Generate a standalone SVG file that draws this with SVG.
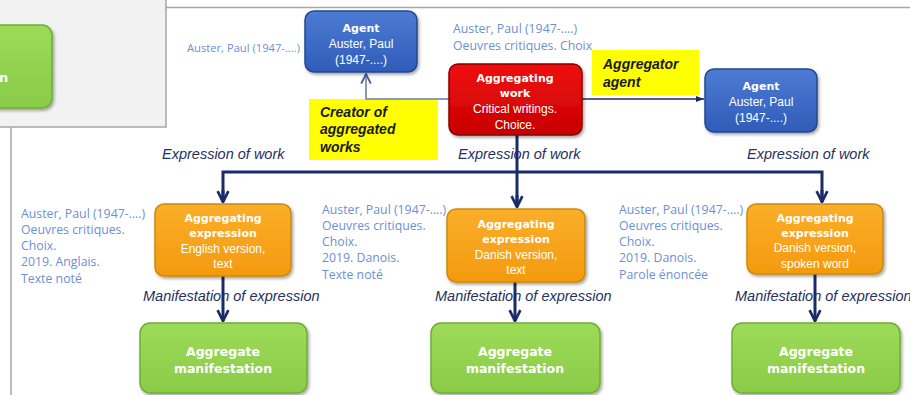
<svg xmlns="http://www.w3.org/2000/svg" width="910" height="395" viewBox="0 0 910 395">
<defs>
<linearGradient id="gBlue" x1="0" y1="0" x2="0" y2="1"><stop offset="0" stop-color="#4d7bd3"/><stop offset="1" stop-color="#2f5cb8"/></linearGradient>
<linearGradient id="gRed" x1="0" y1="0" x2="0" y2="1"><stop offset="0" stop-color="#f01010"/><stop offset="1" stop-color="#c80000"/></linearGradient>
<linearGradient id="gOrange" x1="0" y1="0" x2="0" y2="1"><stop offset="0" stop-color="#fbae2a"/><stop offset="1" stop-color="#f49a0e"/></linearGradient>
<linearGradient id="gGreen" x1="0" y1="0" x2="0" y2="1"><stop offset="0" stop-color="#9ddb58"/><stop offset="1" stop-color="#8acb48"/></linearGradient>
<filter id="sh" x="-10%" y="-10%" width="125%" height="130%"><feDropShadow dx="1.5" dy="2" stdDeviation="1.5" flood-color="#000" flood-opacity="0.35"/></filter>
<marker id="arr" viewBox="0 0 10 10" refX="9" refY="5" markerWidth="4.5" markerHeight="4.5" orient="auto"><path d="M1,1 L9,5 L1,9" fill="none" stroke="#1b2a6b" stroke-width="2"/></marker>
<marker id="arrL" viewBox="0 0 10 10" refX="9" refY="5" markerWidth="6" markerHeight="6" orient="auto"><path d="M1,1 L9,5 L1,9" fill="none" stroke="#4a5f9a" stroke-width="1.6"/></marker>
<marker id="arrS" viewBox="0 0 10 10" refX="9" refY="5" markerWidth="6" markerHeight="6" orient="auto"><path d="M0,1.5 L9,5 L0,8.5 Z" fill="#1b2a6b"/></marker>
</defs>
<style>
.blue{fill:url(#gBlue);stroke:#24478f;stroke-width:1.5;filter:url(#sh)}
.red{fill:url(#gRed);stroke:#8c0000;stroke-width:1.5;filter:url(#sh)}
.orange{fill:url(#gOrange);stroke:#c98a10;stroke-width:1.5;filter:url(#sh)}
.green{fill:url(#gGreen);stroke:#6fae33;stroke-width:1.5;filter:url(#sh)}
.hd{font-family:"DejaVu Sans",sans-serif;font-weight:bold;font-size:11px;fill:#ffffff;text-anchor:middle}
.tx{font-family:"Liberation Sans",Arial,sans-serif;font-size:12px;fill:#ffffff;text-anchor:middle}
.gh{font-family:"DejaVu Sans",sans-serif;font-weight:bold;font-size:12.5px;fill:#ffffff;text-anchor:middle}
.lb{font-family:"Open Sans","Liberation Sans",sans-serif;font-size:12.3px;fill:#6d8fd6}
.rel{font-family:"Liberation Sans",Arial,sans-serif;font-style:italic;font-size:14.5px;fill:#27305e}
.yel{fill:#ffff00}
.yt{font-family:"Liberation Sans",Arial,sans-serif;font-weight:bold;font-style:italic;font-size:14px;fill:#1a1a1a}
.ln{fill:none;stroke:#1b2a6b;stroke-width:3}
</style>

<g id="frame">
<rect x="-2" y="-2" width="168" height="129" fill="#f2f2f2" stroke="#a6a6a6" stroke-width="1.5"/>
<line x1="166" y1="7.5" x2="910" y2="7.5" stroke="#a6a6a6" stroke-width="1.5"/>
<line x1="11" y1="127" x2="11" y2="395" stroke="#a6a6a6" stroke-width="1.5"/>
</g>

<g id="node-partial">
<rect x="-40" y="25" width="92" height="83" rx="10" class="green"/>
<text x="-1" y="82" font-family="DejaVu Sans,sans-serif" font-weight="bold" font-size="13" fill="#fff">n</text>
</g>

<g id="labels">
<rect x="309" y="99" width="129" height="61" class="yel"/>
<text class="yt" x="320" y="117">Creator of</text>
<text class="yt" x="320" y="134">aggregated</text>
<text class="yt" x="320" y="152">works</text>
<rect x="592" y="50" width="107" height="45" class="yel"/>
<text class="yt" x="603" y="69">Aggregator</text>
<text class="yt" x="603" y="87">agent</text>
<text class="lb" x="187" y="52" style="font-size:11.2px">Auster, Paul (1947-....)</text>
<text class="lb" x="453" y="33">Auster, Paul (1947-....)</text>
<text class="lb" x="453" y="50">Oeuvres critiques. Choix</text>
<text class="rel" x="162" y="159">Expression of work</text>
<text class="rel" x="458" y="159">Expression of work</text>
<text class="rel" x="747" y="159">Expression of work</text>
<text class="lb" x="21" y="218">Auster, Paul (1947-....)</text>
<text class="lb" x="21" y="234">Oeuvres critiques.</text>
<text class="lb" x="21" y="250">Choix.</text>
<text class="lb" x="21" y="266">2019. Anglais.</text>
<text class="lb" x="21" y="283">Texte noté</text>
<text class="lb" x="322" y="214">Auster, Paul (1947-....)</text>
<text class="lb" x="322" y="230">Oeuvres critiques.</text>
<text class="lb" x="322" y="246">Choix.</text>
<text class="lb" x="322" y="262">2019. Danois.</text>
<text class="lb" x="322" y="279">Texte noté</text>
<text class="lb" x="619" y="214">Auster, Paul (1947-....)</text>
<text class="lb" x="619" y="230">Oeuvres critiques.</text>
<text class="lb" x="619" y="246">Choix.</text>
<text class="lb" x="619" y="262">2019. Danois.</text>
<text class="lb" x="619" y="279">Parole énoncée</text>
<text class="rel" x="143" y="301">Manifestation of expression</text>
<text class="rel" x="435" y="301">Manifestation of expression</text>
<text class="rel" x="735" y="301">Manifestation of expression</text>
</g>

<g id="connectors">
<path d="M449,99 H366 V74" fill="none" stroke="#8a9ab8" stroke-width="2" marker-end="url(#arrL)"/>
<line x1="582" y1="99" x2="704" y2="99" stroke="#1b2a6b" stroke-width="1.5" marker-end="url(#arrS)"/>
<path class="ln" d="M517,135 V206"/>
<path class="ln" d="M223,202 V172 H822 V202"/>
<line class="ln" x1="223" y1="190" x2="223" y2="202" marker-end="url(#arr)"/>
<line class="ln" x1="517" y1="195" x2="517" y2="207" marker-end="url(#arr)"/>
<line class="ln" x1="822" y1="190" x2="822" y2="202" marker-end="url(#arr)"/>
<line class="ln" x1="223" y1="276" x2="223" y2="321" marker-end="url(#arr)"/>
<line class="ln" x1="515" y1="282" x2="515" y2="321" marker-end="url(#arr)"/>
<line class="ln" x1="815" y1="274" x2="815" y2="321" marker-end="url(#arr)"/>
</g>

<g id="agent-1">
<rect x="305" y="11" width="112" height="61" rx="9" class="blue"/>
<text class="hd" x="361" y="32">Agent</text>
<text class="tx" x="361" y="48">Auster, Paul</text>
<text class="tx" x="361" y="64">(1947-....)</text>
</g>

<g id="aggregating-work">
<rect x="449" y="64" width="133" height="71" rx="9" class="red"/>
<text class="hd" x="515" y="82">Aggregating</text>
<text class="hd" x="515" y="97">work</text>
<text class="tx" x="515" y="113">Critical writings.</text>
<text class="tx" x="515" y="129">Choice.</text>
</g>

<g id="agent-2">
<rect x="705" y="69" width="112" height="63" rx="9" class="blue"/>
<text class="hd" x="761" y="90">Agent</text>
<text class="tx" x="761" y="106">Auster, Paul</text>
<text class="tx" x="761" y="122">(1947-....)</text>
</g>

<g id="expression-1">
<rect x="155" y="204" width="136" height="72" rx="9" class="orange"/>
<text class="hd" x="223" y="222">Aggregating</text>
<text class="hd" x="223" y="237">expression</text>
<text class="tx" x="223" y="253">English version,</text>
<text class="tx" x="223" y="268">text</text>
</g>

<g id="expression-2">
<rect x="447" y="209" width="138" height="73" rx="9" class="orange"/>
<text class="hd" x="516" y="228">Aggregating</text>
<text class="hd" x="516" y="243">expression</text>
<text class="tx" x="516" y="259">Danish version,</text>
<text class="tx" x="516" y="274">text</text>
</g>

<g id="expression-3">
<rect x="747" y="204" width="136" height="70" rx="9" class="orange"/>
<text class="hd" x="815" y="222">Aggregating</text>
<text class="hd" x="815" y="237">expression</text>
<text class="tx" x="815" y="252">Danish version,</text>
<text class="tx" x="815" y="268">spoken word</text>
</g>

<g id="manifestation-1">
<rect x="140" y="323" width="167" height="70" rx="10" class="green"/>
<text class="gh" x="223" y="356">Aggregate</text>
<text class="gh" x="223" y="373">manifestation</text>
</g>

<g id="manifestation-2">
<rect x="431" y="323" width="169" height="70" rx="10" class="green"/>
<text class="gh" x="515" y="356">Aggregate</text>
<text class="gh" x="515" y="373">manifestation</text>
</g>

<g id="manifestation-3">
<rect x="732" y="323" width="168" height="70" rx="10" class="green"/>
<text class="gh" x="816" y="356">Aggregate</text>
<text class="gh" x="816" y="373">manifestation</text>
</g>
</svg>
